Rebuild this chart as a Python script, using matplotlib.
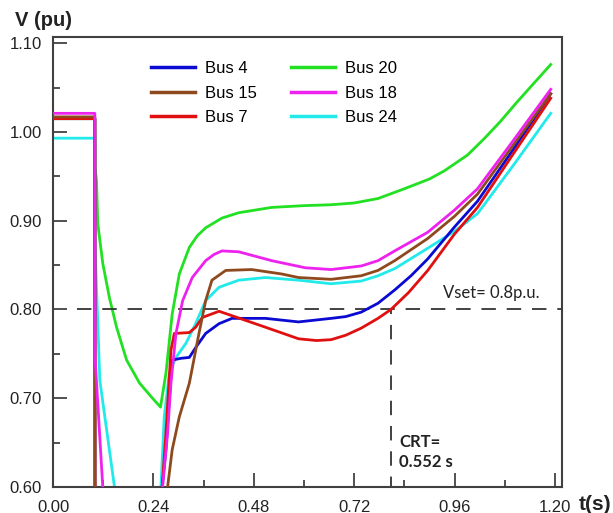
import numpy as np
import matplotlib.pyplot as plt

# bus voltages (pu) vs time (s)
t_bus4 = [0, 0.100, 0.1005, 0.25, 0.261, 0.270, 0.278, 0.285, 0.306, 0.326, 0.341, 0.365,
          0.397, 0.428, 0.508, 0.587, 0.665, 0.70, 0.737, 0.777, 0.817, 0.856, 0.896, 0.96,
          1.015, 1.10, 1.19]
v_bus4 = [1.015, 1.015, 0.5, 0.5, 0.60, 0.642, 0.698, 0.743, 0.745, 0.746, 0.757, 0.773,
          0.784, 0.790, 0.790, 0.786, 0.790, 0.792, 0.797, 0.807, 0.822, 0.838, 0.857, 0.893,
          0.922, 0.980, 1.043]

t_bus15 = [0, 0.100, 0.1005, 0.26, 0.274, 0.285, 0.302, 0.326, 0.349, 0.365, 0.380, 0.413,
           0.475, 0.547, 0.587, 0.665, 0.737, 0.777, 0.817, 0.896, 0.96, 1.015, 1.10, 1.19]
v_bus15 = [1.017, 1.017, 0.5, 0.5, 0.60, 0.642, 0.679, 0.717, 0.773, 0.810, 0.833, 0.844,
           0.845, 0.840, 0.836, 0.834, 0.838, 0.844, 0.855, 0.880, 0.905, 0.930, 0.985, 1.043]

t_bus7 = [0, 0.100, 0.1005, 0.25, 0.261, 0.270, 0.282, 0.290, 0.326, 0.341, 0.357, 0.397,
          0.428, 0.508, 0.587, 0.63, 0.665, 0.70, 0.737, 0.777, 0.808, 0.85, 0.896, 0.96,
          1.015, 1.10, 1.19]
v_bus7 = [1.015, 1.015, 0.5, 0.5, 0.60, 0.661, 0.754, 0.773, 0.774, 0.780, 0.791, 0.798,
          0.793, 0.780, 0.767, 0.765, 0.766, 0.771, 0.779, 0.790, 0.800, 0.819, 0.844, 0.885,
          0.915, 0.975, 1.038]

t_bus20 = [0, 0.100, 0.1005, 0.104, 0.107, 0.119, 0.135, 0.152, 0.176, 0.207, 0.238, 0.257,
           0.270, 0.285, 0.302, 0.326, 0.345, 0.365, 0.404, 0.444, 0.523, 0.60, 0.665, 0.72,
           0.777, 0.84, 0.90, 0.935, 0.991, 1.03, 1.07, 1.11, 1.15, 1.19]
v_bus20 = [1.015, 1.015, 0.96, 0.945, 0.897, 0.852, 0.813, 0.780, 0.743, 0.717, 0.700, 0.690,
           0.728, 0.795, 0.840, 0.870, 0.883, 0.892, 0.903, 0.909, 0.915, 0.917, 0.918, 0.920,
           0.925, 0.936, 0.947, 0.956, 0.974, 0.992, 1.012, 1.034, 1.055, 1.076]

t_bus18 = [0, 0.100, 0.1005, 0.119, 0.125, 0.255, 0.262, 0.274, 0.282, 0.294, 0.310, 0.333,
           0.365, 0.385, 0.404, 0.444, 0.523, 0.603, 0.665, 0.737, 0.777, 0.817, 0.896, 0.96,
           1.015, 1.10, 1.19]
v_bus18 = [1.021, 1.021, 0.746, 0.60, 0.5, 0.5, 0.60, 0.661, 0.717, 0.773, 0.810, 0.836,
           0.855, 0.862, 0.866, 0.865, 0.855, 0.847, 0.845, 0.849, 0.855, 0.866, 0.887, 0.912,
           0.936, 0.990, 1.048]

t_bus24 = [0, 0.100, 0.1005, 0.112, 0.147, 0.16, 0.25, 0.258, 0.266, 0.278, 0.294, 0.318,
           0.341, 0.365, 0.397, 0.444, 0.508, 0.587, 0.665, 0.737, 0.777, 0.817, 0.896, 0.96,
           1.015, 1.10, 1.19]
v_bus24 = [0.993, 0.993, 0.87, 0.72, 0.60, 0.5, 0.5, 0.60, 0.679, 0.728, 0.746, 0.762,
           0.784, 0.810, 0.825, 0.833, 0.836, 0.833, 0.829, 0.832, 0.838, 0.846, 0.869, 0.888,
           0.908, 0.962, 1.021]

labels = ['Bus 4', 'Bus 15', 'Bus 7', 'Bus 20', 'Bus 18', 'Bus 24']
colors = ['#0a0ad2', '#8e4a1e', '#e01010', '#22e022', '#ee22ee', '#22eaea']
zorders = [3, 5, 4, 2, 6, 2.5]

vset = 0.8
t_crt = 0.808

plt.rcParams['font.family'] = ['Liberation Sans', 'DejaVu Sans']

fig = plt.figure(figsize=(6.13, 5.13), dpi=100)
ax = fig.add_axes([53/613, 1 - 487/513, (562 - 53)/613, (487 - 37)/513])

series = [(t_bus4, v_bus4), (t_bus15, v_bus15), (t_bus7, v_bus7),
          (t_bus20, v_bus20), (t_bus18, v_bus18), (t_bus24, v_bus24)]
for (t, v), lab, c, z in zip(series, labels, colors, zorders):
    ax.plot(t, v, color=c, lw=2, label=lab, zorder=z)

# Vset line and CRT marker
ax.hlines(vset, 0.057, 1.217, color='#333333', lw=1.3, linestyles=(0, (8, 6)))
ax.vlines(t_crt, 0.595, vset, color='#333333', lw=1.3, linestyles=(0, (8, 6)))

ax.set_xlim(0, 1.217)
ax.set_ylim(0.6, 1.107)
ax.set_xticks(np.arange(0, 1.21, 0.24))
ax.set_xticklabels(['%.2f' % x for x in np.arange(0, 1.21, 0.24)])
ax.set_xticks(np.arange(0.12, 1.21, 0.24), minor=True)
ax.set_yticks(np.arange(0.6, 1.11, 0.1))
ax.set_yticklabels(['%.2f' % y for y in np.arange(0.6, 1.11, 0.1)])
ax.set_yticks(np.arange(0.65, 1.11, 0.1), minor=True)
ax.tick_params(which='major', direction='in', length=10, width=1.2, color='#333333',
               labelsize=12, labelcolor='#222222')
ax.tick_params(which='minor', direction='in', length=5, width=1.2, color='#333333')
ax.tick_params(axis='x', which='major', pad=9)
ax.tick_params(axis='y', which='major', pad=8)
for s in ax.spines.values():
    s.set_color('#404040')
    s.set_linewidth(1.5)

leg = ax.legend(ncol=2, frameon=False, loc='upper left', bbox_to_anchor=(0.193, 0.947),
                borderaxespad=0, borderpad=0, fontsize=12, handlelength=2.6,
                handletextpad=0.6, columnspacing=2.1, labelspacing=0.58)
for h in leg.get_lines():
    h.set_linewidth(2.5)

ax.text(0.932, 0.819, 'Vset= 0.8p.u.', family=['Lato', 'DejaVu Sans'], fontsize=12,
        color='#222222', va='center', ha='left')
ax.text(0.827, 0.651, 'CRT=', family=['Lato', 'DejaVu Sans'], fontsize=12,
        fontweight='bold', color='#222222', va='center', ha='left')
ax.text(0.827, 0.628, '0.552 s', family=['Lato', 'DejaVu Sans'], fontsize=12,
        fontweight='bold', color='#222222', va='center', ha='left')

fig.text(15/613, 1 - 21/513, 'V (pu)', fontsize=14.5, fontweight='bold',
         color='#222222', va='center', ha='left')
fig.text(579/613, 1 - 504/513, 't(s)', fontsize=15, fontweight='bold',
         color='#222222', va='center', ha='left')

fig.savefig('out.png', dpi=100)
